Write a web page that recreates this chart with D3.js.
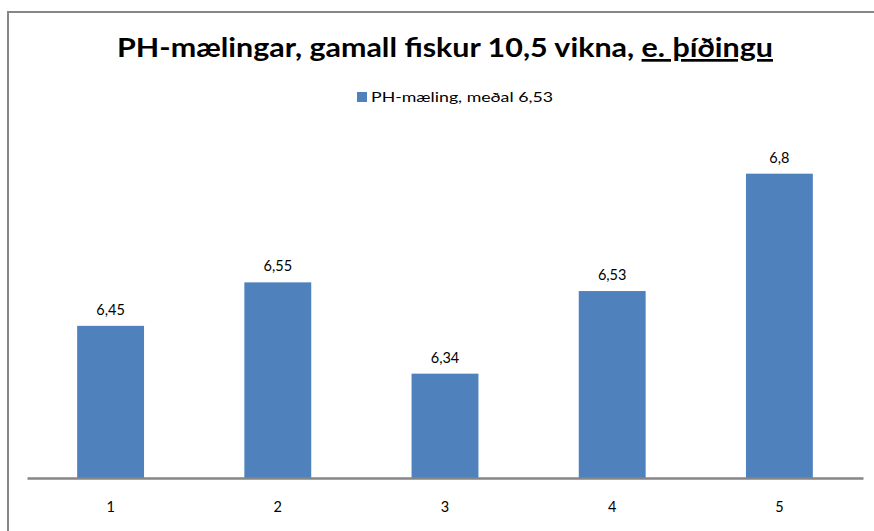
<!DOCTYPE html>
<html>
<head>
<meta charset="utf-8">
<script src="https://cdn.jsdelivr.net/npm/d3@7"></script>
<style>
  body { margin: 0; background: #fff; }
  text { font-family: Lato, "Open Sans", sans-serif; fill: #000; }
</style>
</head>
<body>
<div id="app"></div>
<script>
(function (d3) {

  'use strict'

  const categories = ['1', '2', '3', '4', '5']
  const values = [6.45, 6.55, 6.34, 6.53, 6.8]
  const valueLabels = ['6,45', '6,55', '6,34', '6,53', '6,8']
  const seriesName = 'PH-mæling, meðal 6,53'
  const titleMain = 'PH-mælingar, gamall fiskur 10,5 vikna, '
  const titleUnder = 'e. þíðingu'

  const w = 874
  const h = 531
  const plot = { left: 27, right: 863, top: 130.2, bottom: 478 }

  const svg = d3.select('#app')
  .append('svg')
  .attr('width', w)
  .attr('height', h)

  // chart frame (cropped, only top and left edges show)
  svg.append('path')
  .attr('d', `M8,${h} L8,12 L${w},12`)
  .attr('fill', 'none')
  .attr('stroke', '#878787')
  .attr('stroke-width', 2)

  const x = d3.scaleBand()
  .domain(categories)
  .range([plot.left, plot.right])
  .paddingInner(0.6)
  .paddingOuter(0.3)

  const y = d3.scaleLinear()
  .domain([6.1, 6.9])
  .range([plot.bottom, plot.top])

  // title
  const title = svg.append('text')
  .attr('x', 117)
  .attr('y', 57)
  .attr('font-size', 27)
  .attr('font-weight', 'bold')
  .attr('textLength', 656)
  .attr('lengthAdjust', 'spacingAndGlyphs')
  title.append('tspan').text(titleMain)
  title.append('tspan')
  .style('text-decoration', 'underline')
  .text(titleUnder)

  // legend
  const legend = svg.append('g').attr('transform', 'translate(357,92)')
  legend.append('rect')
  .attr('width', 10)
  .attr('height', 10)
  .attr('fill', '#4F81BD')
  legend.append('text')
  .attr('x', 14)
  .attr('y', 10)
  .attr('font-size', 14)
  .attr('textLength', 182)
  .attr('lengthAdjust', 'spacingAndGlyphs')
  .text(seriesName)

  const data = categories.map((c, i) => ({ cat: c, v: values[i], label: valueLabels[i] }))

  svg.append('g')
  .selectAll('rect')
  .data(data)
  .enter()
  .append('rect')
  .attr('x', d => x(d.cat))
  .attr('y', d => y(d.v))
  .attr('width', x.bandwidth())
  .attr('height', d => y(6.1) - y(d.v))
  .attr('fill', '#4F81BD')

  svg.append('g')
  .selectAll('text')
  .data(data)
  .enter()
  .append('text')
  .attr('x', d => x(d.cat) + x.bandwidth() / 2)
  .attr('y', d => y(d.v) - 11)
  .attr('text-anchor', 'middle')
  .attr('font-size', 14.5)
  .text(d => d.label)

  // category axis
  const axis = svg.append('g')
  .attr('transform', `translate(0,${plot.bottom})`)
  .call(d3.axisBottom(x).tickSize(0).tickPadding(24))
  axis.select('.domain')
  .attr('stroke', '#868686')
  .attr('stroke-width', 2.5)
  axis.selectAll('.tick text')
  .attr('font-size', 14.5)
  .attr('font-family', 'Lato, "Open Sans", sans-serif')

}(d3))
</script>
</body>
</html>
